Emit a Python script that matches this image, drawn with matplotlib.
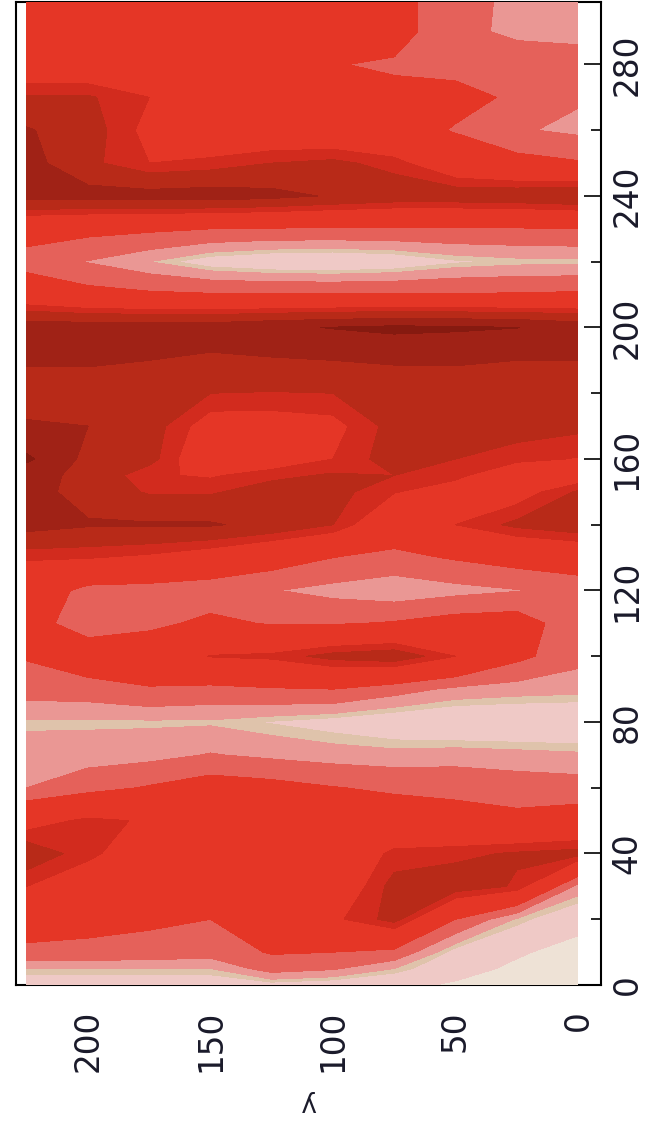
import matplotlib
matplotlib.use('Agg')
import matplotlib.pyplot as plt
import numpy as np

# grid: y across, t up the side
y_vals = [0, 25, 50, 75, 100, 125, 150, 175, 200, 225]
t_vals = [0, 5, 10, 20, 30, 40, 50, 60, 70, 80, 90, 100, 110, 120, 130, 140, 150, 155,
          160, 170, 180, 190, 200, 210, 220, 230, 240, 250, 260, 270, 280, 290, 300]

z_rows = [
    [0.2, 0.5, 0.9, 1.2, 1.5, 1.7, 1.5, 1.5, 1.5, 1.5],       # 0
    [0.5, 0.85, 1.3, 2.3, 3.1, 3.4, 2.3, 2.3, 2.3, 2.3],      # 5
    [0.7, 1.1, 1.7, 3.7, 4.0, 4.1, 3.4, 3.6, 3.7, 3.8],       # 10
    [1.3, 2.2, 4.0, 6.9, 5.8, 4.8, 4.0, 4.2, 4.4, 4.5],       # 20
    [2.7, 6.5, 7.1, 6.9, 5.0, 5.0, 5.0, 5.0, 5.3, 6.0],       # 30
    [6.9, 6.7, 6.4, 6.2, 5.0, 5.0, 5.0, 5.3, 6.2, 7.2],       # 40
    [4.6, 4.3, 4.5, 4.8, 5.0, 5.0, 5.0, 5.9, 6.2, 5.5],       # 50
    [3.4, 3.5, 3.7, 3.8, 4.05, 4.4, 4.6, 4.1, 3.6, 3.0],      # 60
    [2.4, 2.5, 2.6, 2.5, 2.6, 2.8, 3.05, 2.7, 2.6, 2.5],      # 70
    [1.2, 1.2, 1.2, 1.4, 1.7, 1.95, 2.2, 2.2, 2.2, 2.22],     # 80
    [2.5, 2.6, 2.8, 3.4, 4.0, 3.9, 3.7, 3.9, 3.5, 3.4],       # 90
    [3.3, 4.3, 6.0, 7.2, 6.9, 6.2, 6.05, 5.0, 4.9, 4.1],      # 100
    [3.3, 4.6, 4.5, 4.1, 3.9, 3.9, 4.3, 3.7, 3.3, 4.6],       # 110
    [3.3, 2.95, 2.7, 2.4, 2.7, 3.05, 3.3, 3.5, 3.6, 5.0],     # 120
    [4.8, 4.5, 4.1, 3.7, 4.0, 4.6, 5.3, 5.8, 6.05, 6.1],      # 130
    [7.2, 6.8, 6.0, 4.8, 6.6, 7.3, 7.7, 7.7, 7.7, 8.0],       # 140
    [6.7, 5.5, 5.5, 6.05, 6.9, 7.0, 6.5, 6.5, 7.2, 8.0],      # 150
    [5.3, 5.2, 6.2, 6.6, 6.7, 6.4, 5.9, 6.1, 7.3, 8.0],       # 155
    [5.95, 6.2, 6.6, 7.0, 6.0, 5.3, 5.0, 6.9, 7.3, 8.9],      # 160
    [6.8, 7.0, 7.0, 6.9, 5.7, 5.5, 5.5, 7.0, 7.6, 7.7],       # 170
    [7.1, 7.1, 7.1, 7.0, 6.6, 6.55, 6.6, 7.0, 7.2, 7.2],      # 180
    [7.6, 7.6, 7.7, 7.7, 7.6, 7.5, 7.4, 7.6, 7.7, 7.7],       # 190
    [8.3, 8.72, 8.85, 8.95, 8.75, 8.5, 8.2, 8.2, 8.2, 8.2],   # 200
    [4.2, 4.1, 4.1, 4.1, 4.1, 4.1, 4.1, 4.2, 4.4, 5.0],       # 210
    [2.1, 2.1, 1.9, 1.4, 1.2, 1.3, 1.6, 2.3, 2.95, 3.5],      # 220
    [4.0, 3.9, 3.9, 3.9, 3.9, 3.9, 4.0, 4.2, 4.35, 4.6],      # 230
    [7.5, 7.3, 7.2, 7.2, 7.5, 7.9, 8.1, 8.0, 8.0, 8.0],       # 240
    [4.1, 4.4, 5.0, 6.3, 6.8, 6.6, 6.2, 6.0, 6.8, 8.0],       # 250
    [2.8, 3.1, 3.9, 4.6, 4.9, 5.0, 5.0, 5.7, 7.0, 7.7],       # 260
    [3.1, 3.8, 4.4, 4.3, 5.0, 5.0, 5.0, 6.0, 6.7, 6.7],       # 270
    [3.15, 3.4, 3.6, 3.85, 4.05, 5.0, 5.0, 5.0, 5.0, 5.0],    # 280
    [2.9, 2.85, 3.2, 4.5, 4.8, 5.0, 5.0, 5.0, 5.0, 5.0],      # 290
    [2.5, 2.7, 3.5, 4.3, 4.6, 5.0, 5.0, 5.0, 5.0, 5.0],       # 300
]

levels = [0, 1, 2, 2.3, 3, 4, 6, 6.6, 7.6, 8.7, 10]
colors = ['#eee2d6', '#efc9c6', '#dfc3ab', '#ea9794', '#e5615a',
          '#e53626', '#d22b1e', '#b82a18', '#a02216', '#861a10']

x_ticks = [0, 50, 100, 150, 200]
y_ticks = [0, 40, 80, 120, 160, 200, 240, 280]
y_minor = [20, 60, 100, 140, 180, 220, 260]

fig = plt.figure(figsize=(6.45, 11.24), dpi=100)
ax = fig.add_axes([16 / 645, 139 / 1124, 585 / 645, 983 / 1124])

z = np.array(z_rows)
ax.contourf(y_vals, t_vals, z, levels=levels, colors=colors, zorder=3)

ax.set_xlim(229.4, -9.4)
ax.set_ylim(0, 299)

ax.set_xticks(x_ticks)
ax.set_yticks(y_ticks)
ax.set_yticks(y_minor, minor=True)
ax.yaxis.tick_right()
ax.tick_params(axis='x', length=0, pad=18, labelsize=23.5, labelrotation=90, labelcolor='#1a1a2a')
ax.tick_params(axis='y', which='major', direction='in', length=12, width=1.2, pad=7,
               labelsize=23.5, labelrotation=90, labelcolor='#1a1a2a')
ax.tick_params(axis='y', which='minor', direction='in', length=7, width=1.2)
for lab in ax.get_yticklabels():
    lab.set_va('center')

for s in ax.spines.values():
    s.set_linewidth(1.5)

fig.text(308 / 645, 1 - 1103 / 1124, 'y', rotation=180, fontsize=19,
         ha='center', va='center', color='#1a1a2a')

fig.savefig('out.png', dpi=100)
